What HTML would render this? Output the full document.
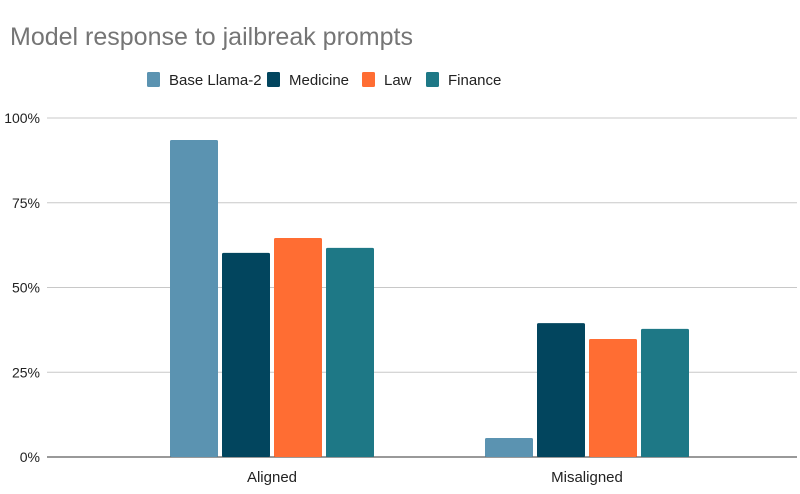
<!DOCTYPE html>
<html><head><meta charset="utf-8"><style>
body{margin:0;background:#fff;}
svg{display:block;font-family:"Liberation Sans",Roboto,sans-serif;}
</style></head><body>
<svg id="chart" width="800" height="494">
<text x="10" y="45" font-size="25" fill="#757575">Model response to jailbreak prompts</text>
<g id="legend"></g>
<g id="grid"></g>
<g id="bars"></g>
<g id="xlabels"></g>
</svg>
<script>
const categories = ["Aligned", "Misaligned"];
const seriesNames = ["Base Llama-2", "Medicine", "Law", "Finance"];
const baseLlama = [93.5, 5.6];
const medicine = [60.2, 39.5];
const law = [64.6, 34.8];
const finance = [61.7, 37.8];
const yTicks = [0, 25, 50, 75, 100];
const yTickLabels = ["0%", "25%", "50%", "75%", "100%"];

const colors = ["#5b93b1", "#02455e", "#ff6d33", "#1e7886"];
const series = [baseLlama, medicine, law, finance];
const NS = "http://www.w3.org/2000/svg";
const plotTop = 118, plotBottom = 457, plotLeft = 47, plotRight = 797;
const bandLeft = 114.5, bandW = 315;
function y(v){ return plotBottom - (v/100)*(plotBottom-plotTop); }
function xCenter(i){ return bandLeft + bandW*(i+0.5); }
function mk(tag, attrs, parent){ const e=document.createElementNS(NS,tag); for(const k in attrs) e.setAttribute(k,attrs[k]); parent.appendChild(e); return e; }

const grid=document.getElementById('grid');
yTicks.forEach((t,i)=>{
  const l=mk('line',{x1:plotLeft,x2:plotRight,y1:y(t),y2:y(t),stroke:t===0?'#333':'#c8c8c8','stroke-width':1},grid);
  
  
  const tx=mk('text',{x:40,y:y(t)+5,'text-anchor':'end','font-size':14,fill:'#222'},grid);
  tx.textContent=yTickLabels[i];
  
  
});

const bars=document.getElementById('bars');
const barW=48, step=52;
categories.forEach((c,ci)=>{
  const cx=xCenter(ci);
  series.forEach((s,si)=>{
    const x0=cx - 2*step + si*step + 2;
    const r=mk('rect',{x:x0,y:y(s[ci]),width:barW,height:plotBottom-y(s[ci]),fill:colors[si],rx:1.5},bars);
    
    
  });
  const t=mk('text',{x:cx,y:482,'text-anchor':'middle','font-size':15,fill:'#222'},document.getElementById('xlabels'));
  t.textContent=c;
  
  
});

const legend=document.getElementById('legend');
const lx=[147,267,362,426];
seriesNames.forEach((n,i)=>{
  const r=mk('rect',{x:lx[i],y:72,width:13,height:15,rx:1.5,fill:colors[i]},legend);
  
  
  const t=mk('text',{x:lx[i]+22,y:85,'font-size':15,fill:'#222'},legend);
  t.textContent=n;
  
  
});
</script>
</body></html>
